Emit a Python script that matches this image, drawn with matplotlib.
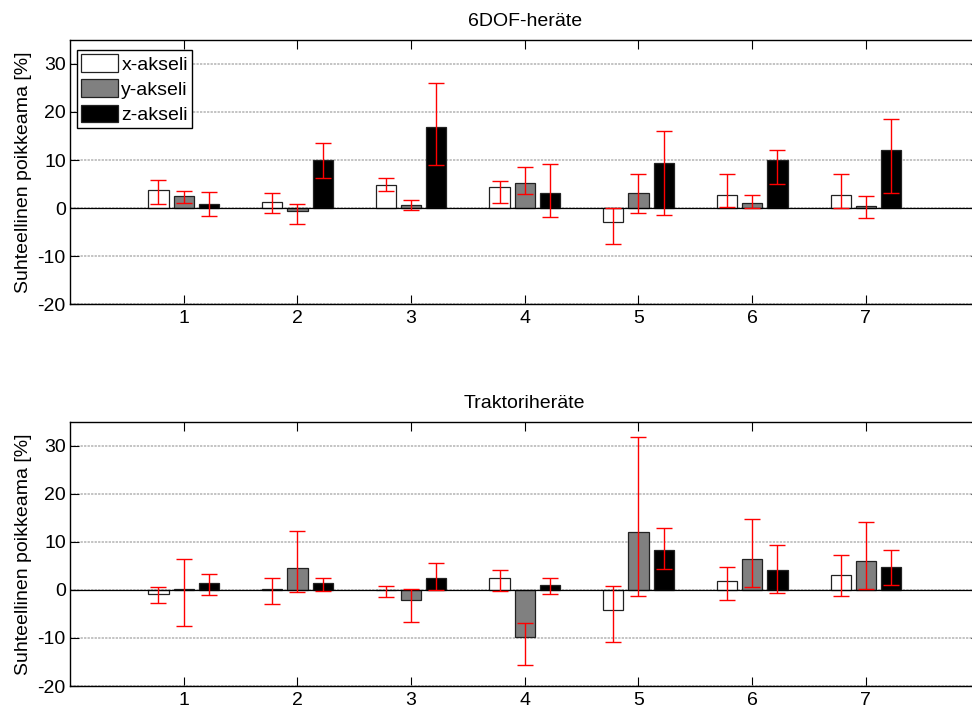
import numpy as np
import matplotlib as mpl
mpl.use('Agg')
import matplotlib.pyplot as plt

plt.rcParams['font.family'] = ['Liberation Sans', 'DejaVu Sans']
plt.rcParams['axes.unicode_minus'] = False

groups = [1, 2, 3, 4, 5, 6, 7]
labels = ['x-akseli', 'y-akseli', 'z-akseli']
titles = ['6DOF-heräte', 'Traktoriheräte']

# 6DOF-herate: bar value, lower / upper end of error bar
dof_x = [3.7, 1.3, 4.7, 4.3, -2.9, 2.8, 2.8]
dof_x_lo = [0.8, -1.0, 3.5, 1.0, -7.4, 0.3, -0.1]
dof_x_hi = [5.8, 3.2, 6.2, 5.7, 0.1, 7.0, 7.0]
dof_y = [2.4, -0.55, 0.7, 5.3, 3.05, 1.1, 0.5]
dof_y_lo = [1.1, -3.3, -0.5, 2.85, -1.0, 0.07, -2.0]
dof_y_hi = [3.5, 0.9, 1.6, 8.5, 7.15, 2.8, 2.6]
dof_z = [0.8, 9.9, 16.9, 3.2, 9.3, 9.9, 12.15]
dof_z_lo = [-1.7, 6.2, 8.9, -1.9, -1.5, 5.1, 3.05]
dof_z_hi = [3.3, 13.5, 26.1, 9.1, 16.0, 12.15, 18.5]

# Traktoriherate
tr_x = [-0.84, 0.28, -0.1, 2.44, -4.1, 1.9, 3.0]
tr_x_lo = [-2.7, -2.9, -1.4, -0.28, -10.8, -2.16, -1.25]
tr_x_hi = [0.63, 2.44, 0.84, 4.2, 0.84, 4.87, 7.2]
tr_y = [0.28, 4.52, -2.0, -9.74, 12.0, 6.47, 6.1]
tr_y_lo = [-7.5, -0.5, -6.6, -15.7, -1.25, 0.7, 0.14]
tr_y_hi = [6.4, 12.2, 0.28, -6.8, 31.9, 14.8, 14.1]
tr_z = [1.53, 1.53, 2.5, 1.1, 8.4, 4.2, 4.7]
tr_z_lo = [-1.04, -0.28, -0.07, -0.84, 4.4, -0.56, 1.1]
tr_z_hi = [3.34, 2.57, 5.5, 2.44, 12.9, 9.3, 8.35]

colors = ['white', '#808080', 'black']
FS = 14


def draw_panel(ax, title, vals, los, his, legend=False):
    x = np.array(groups, dtype=float)
    offs = [-0.222, 0.0, 0.222]
    width = 0.178
    for k in range(3):
        v = np.array(vals[k])
        yerr = [v - np.array(los[k]), np.array(his[k]) - v]
        ax.bar(x + offs[k], v, width, color=colors[k], edgecolor='#222222',
               linewidth=0.9, label=labels[k], zorder=2)
        ax.errorbar(x + offs[k], v, yerr=yerr, fmt='none', ecolor='red',
                    elinewidth=1.0, capsize=5.6, capthick=1.0, zorder=3)
    ax.axhline(0, color='black', linewidth=0.9, zorder=2.5)
    ax.set_xlim(0, 8)
    ax.set_ylim(-20, 35)
    ax.set_xticks(groups)
    ax.set_yticks([-20, -10, 0, 10, 20, 30])
    ax.yaxis.grid(True, linestyle=(0, (1.5, 0.8)), color='0.7', linewidth=1.1,
                  zorder=0)
    ax.set_axisbelow(True)
    ax.tick_params(direction='in', length=6.5, width=0.8, top=True, right=True,
                   labelsize=FS)
    ax.tick_params(axis='x', pad=4)
    ax.tick_params(axis='y', pad=3)
    for s in ax.spines.values():
        s.set_linewidth(1.0)
    # box runs past the right edge of the figure, as in the original
    ax.spines['right'].set_visible(False)
    ax.set_title(title, fontsize=FS, pad=10)
    ax.set_ylabel('Suhteellinen poikkeama [%]', fontsize=FS, labelpad=4)
    if legend:
        leg = ax.legend(loc='upper left', bbox_to_anchor=(0.0074, 0.962),
                        borderaxespad=0, fontsize=FS, fancybox=False,
                        edgecolor='black', framealpha=1, borderpad=0.22,
                        handlelength=1.9, handleheight=1.0, handletextpad=0.18,
                        labelspacing=0.3)
        leg.get_frame().set_linewidth(1.0)


fig = plt.figure(figsize=(9.72, 7.09), dpi=100)
ax1 = fig.add_axes([0.072, 0.5712, 0.9358, 0.3724])
ax2 = fig.add_axes([0.072, 0.0324, 0.9358, 0.3728])
ax1.patch.set_visible(False)
ax2.patch.set_visible(False)

draw_panel(ax1, titles[0], [dof_x, dof_y, dof_z],
           [dof_x_lo, dof_y_lo, dof_z_lo], [dof_x_hi, dof_y_hi, dof_z_hi],
           legend=True)
draw_panel(ax2, titles[1], [tr_x, tr_y, tr_z],
           [tr_x_lo, tr_y_lo, tr_z_lo], [tr_x_hi, tr_y_hi, tr_z_hi])

fig.savefig('out.png', dpi=100)
